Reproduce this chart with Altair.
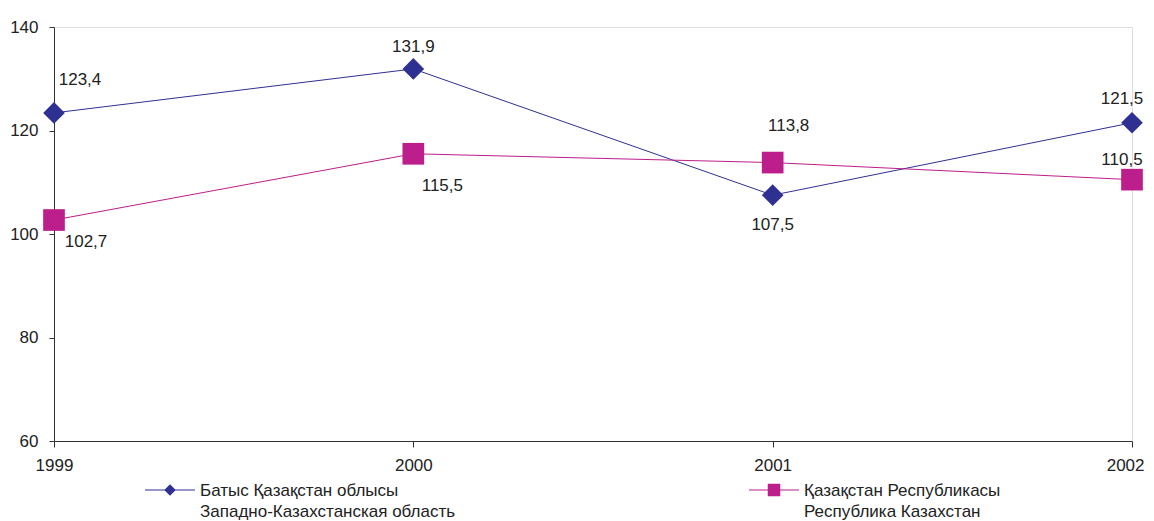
import altair as alt
import pandas as pd

years = [1999, 2000, 2001, 2002]
series_names = [
    "Батыс Қазақстан облысы|Западно-Казахстанская область",
    "Қазақстан Республикасы|Республика Казахстан",
]
west_kz = [123.4, 131.9, 107.5, 121.5]
kz = [102.7, 115.5, 113.8, 110.5]
colors = ["#2E3192", "#BC1E8B"]
marker_shapes = ["diamond", "square"]

rows = []
for i, y in enumerate(years):
    rows.append({"year": y, "series": series_names[0], "value": west_kz[i], "idx": i})
    rows.append({"year": y, "series": series_names[1], "value": kz[i], "idx": i})
df = pd.DataFrame(rows)
df["label"] = df["value"].map(lambda v: f"{v:.1f}".replace(".", ","))

FONT = "Liberation Sans"
FS = 17

x_enc = alt.X("year:Q", scale=alt.Scale(domain=[1999, 2002], nice=False, zero=False),
              axis=alt.Axis(values=years, format="d", title=None, grid=False,
                            tickSize=6, labelPadding=10, labelFontSize=FS,
                            labelFont=FONT, labelColor="#222", domainColor="#333",
                            tickColor="#333", labelFlush=False,
                            labelAlign={"condition": {"test": "datum.value == 2002", "value": "right"},
                                        "value": "center"},
                            labelOffset={"condition": {"test": "datum.value == 2002", "value": 12},
                                         "value": 0}))
y_enc = alt.Y("value:Q", scale=alt.Scale(domain=[60, 140], nice=False, zero=False),
              axis=alt.Axis(values=[60, 80, 100, 120, 140], title=None, grid=False,
                            tickSize=5, labelPadding=11, labelFontSize=FS,
                            labelFont=FONT, labelColor="#222", domainColor="#333",
                            tickColor="#333"))

# legend symbols: a thin filled bar (the line) plus the marker, in unit coords
diamond_leg = "M-1,0.26L1,0.26L1,0.30L-1,0.30Z M0,0.05L0.23,0.28L0,0.51L-0.23,0.28Z"
square_leg = "M-1,0.26L1,0.26L1,0.30L-1,0.30Z M-0.25,0.03L0.25,0.03L0.25,0.53L-0.25,0.53Z"

color_scale = alt.Scale(domain=series_names, range=colors)

line_layers = []
point_layers = []
for s, c, shp in zip(series_names, colors, marker_shapes):
    base = alt.Chart(df).transform_filter(alt.datum.series == s)
    line_layers.append(base.mark_line(strokeWidth=1, color=c).encode(x=x_enc, y=y_enc))
    point_layers.append(
        base.mark_point(filled=True, size=470, opacity=1, shape=shp, color=c)
        .encode(x=x_enc, y=y_enc)
    )

leg = alt.Legend(
    title=None, orient="none", legendX=91, legendY=431,
    direction="horizontal", columns=2, columnPadding=293,
    padding=0, labelFontSize=FS, labelFont=FONT, labelColor="#222",
    labelLimit=0, labelOffset=5, symbolSize=2500,
    symbolStrokeWidth=0, symbolOpacity=1,
    labelBaseline="top",
    labelExpr="split(datum.label, '|')",
)

legend_layer = alt.Chart(df).mark_point(
    filled=True, size=2500, strokeWidth=0, opacity=0
).encode(
    x=x_enc, y=y_enc,
    color=alt.Color("series:N", scale=color_scale, legend=leg),
    shape=alt.Shape("series:N", scale=alt.Scale(domain=series_names, range=[diamond_leg, square_leg]),
                    legend=leg),
)

# label offsets (style): per series, per point
offsets = {
    series_names[0]: [(26, -33), (0, -22), (0, 30), (-10, -24)],
    series_names[1]: [(32, 22), (29, 32), (16, -37), (-10, -20)],
}
text_layers = []
for s in series_names:
    for i in range(len(years)):
        dx, dy = offsets[s][i]
        t = alt.Chart(df).transform_filter(
            (alt.datum.series == s) & (alt.datum.idx == i)
        ).mark_text(dx=dx, dy=dy, fontSize=FS, font=FONT, color="#222",
                    align="center", baseline="middle").encode(
            x=x_enc, y=y_enc, text="label:N")
        text_layers.append(t)

chart = alt.layer(*line_layers, *point_layers, legend_layer, *text_layers).properties(
    width=1078, height=414,
    autosize=alt.AutoSizeParams(type="none"),
    padding={"left": 46, "top": 19, "right": 14, "bottom": 80},
).configure_view(stroke=None).configure(
    background="white",
    style={"guide-label": {"lineHeight": 21}},
)

chart.save("out.html", embed_options={"renderer": "svg", "actions": False})
